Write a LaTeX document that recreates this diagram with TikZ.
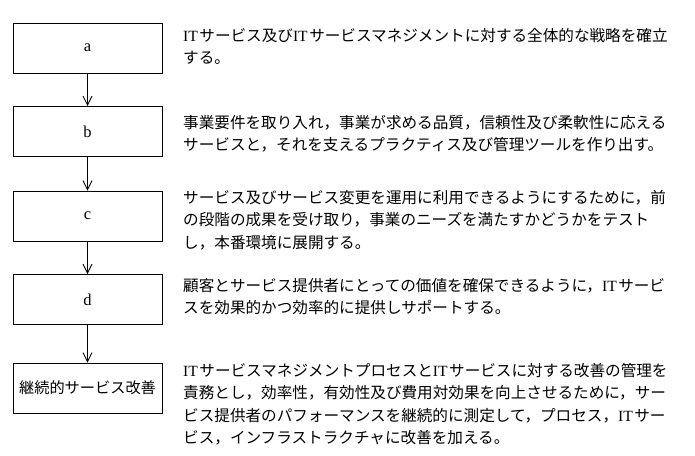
\documentclass[tikz,border=0pt]{standalone}
\usepackage{fontspec}
\setmainfont{Liberation Serif}
\newfontfamily\jp{Noto Sans CJK JP}
\usetikzlibrary{arrows.meta}
\newcommand{\ITs}{{\rmfamily IT}\hspace{1.5pt}}

\begin{document}
\begin{tikzpicture}[x=1pt,y=-1pt,
    stage/.style={draw,line width=1pt,minimum width=149pt,minimum height=50pt,
      inner sep=0pt,font=\fontsize{16.5}{18}\selectfont},
    desc/.style={anchor=base west,text width=500pt,align=left,inner sep=0pt,
      font=\jp\fontsize{15.6}{22.5}\selectfont},
    flow/.style={-{Straight Barb[length=9pt,width=9pt]},line width=0.8pt}]

\def\BOXX{87.5}
\def\TXTX{183}
	\useasboundingbox (0,0) rectangle (695,455);

	% stages
	\node[stage] (a) at (\BOXX,48) {a};
	\node[stage] (b) at (\BOXX,131.5) {b};
	\node[stage] (c) at (\BOXX,216) {c};
	\node[stage] (d) at (\BOXX,299.5) {d};
	\node[stage,font=\jp\fontsize{15.2}{18}\selectfont] (csi) at (\BOXX,388) {継続的サービス改善};

	\draw[flow] (a) -- (b);
	\draw[flow] (b) -- (c);
	\draw[flow] (c) -- (d);
	\draw[flow] (d) -- (csi);

	% descriptions
	\node[desc] (ta) at (\TXTX,41) {\ITs サービス及び\ITs サービスマネジメントに対する全体的な戦略を確立\\する。};
	\node[desc] (tb) at (\TXTX,128) {事業要件を取り入れ，事業が求める品質，信頼性及び柔軟性に応える\\サービスと，それを支えるプラクティス及び管理ツールを作り出す。};
	\node[desc] (tc) at (\TXTX,203) {サービス及びサービス変更を運用に利用できるようにするために，前\\の段階の成果を受け取り，事業のニーズを満たすかどうかをテスト\\し，本番環境に展開する。};
	\node[desc] (td) at (\TXTX,291) {顧客とサービス提供者にとっての価値を確保できるように，\ITs サービ\\スを効果的かつ効率的に提供しサポートする。};
	\node[desc] (te) at (\TXTX,376) {\ITs サービスマネジメントプロセスと\ITs サービスに対する改善の管理を\\責務とし，効率性，有効性及び費用対効果を向上させるために，サー\\ビス提供者のパフォーマンスを継続的に測定して，プロセス，\ITs サー\\ビス，インフラストラクチャに改善を加える。};

\end{tikzpicture}
\end{document}
